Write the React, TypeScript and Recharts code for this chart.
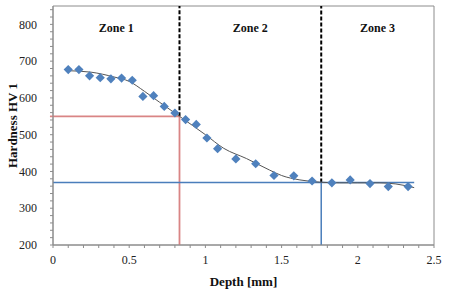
import {
  ComposedChart,
  Scatter,
  Line,
  XAxis,
  YAxis,
  ReferenceLine,
  ReferenceArea,
} from 'recharts';

// measured points
const depth = [0.1, 0.17, 0.24, 0.31, 0.38, 0.45, 0.52, 0.59, 0.66, 0.73, 0.8, 0.87, 0.94, 1.01, 1.08, 1.2, 1.33, 1.45, 1.58, 1.7, 1.83, 1.95, 2.08, 2.2, 2.33];
const hardness = [677, 677, 660, 655, 652, 654, 648, 604, 606, 577, 559, 541, 528, 491, 462, 434, 421, 389, 388, 374, 369, 377, 367, 359, 359];

// fitted trend curve
const trendDepth = [0.1, 0.25, 0.4, 0.5, 0.6, 0.7, 0.83, 1.0, 1.12, 1.27, 1.42, 1.5, 1.62, 1.75, 1.88, 2.0, 2.14, 2.25, 2.37];
const trendHv = [674, 670, 657, 645, 618, 588, 550, 500, 463, 435, 404, 389, 377, 371, 369, 369, 369, 366, 356];

const zones = ['Zone 1', 'Zone 2', 'Zone 3'];
const zoneBounds = [0, 0.83, 1.76, 2.5];

const xTicks = [0, 0.1, 0.2, 0.3, 0.4, 0.5, 0.6, 0.7, 0.8, 0.9, 1, 1.1, 1.2, 1.3, 1.4, 1.5, 1.6, 1.7, 1.8, 1.9, 2, 2.1, 2.2, 2.3, 2.4, 2.5];
const xLabels = [0, 0.5, 1, 1.5, 2, 2.5];
const yTicks = [200, 220, 240, 260, 280, 300, 320, 340, 360, 380, 400, 420, 440, 460, 480, 500, 520, 540, 560, 580, 600, 620, 640, 660, 680, 700, 720, 740, 760, 780, 800, 820, 840];
const yLabels = [200, 300, 400, 500, 600, 700, 800];

const redLevel = 550;
const blueLevel = 370;

const points = depth.map((d, i) => ({ x: d, y: hardness[i] }));
const trend = trendDepth.map((d, i) => ({ x: d, t: trendHv[i] }));

const font = '"Liberation Serif", "Times New Roman", serif';

const Diamond = (props: any) => {
  const { cx, cy } = props;
  const r = 4.6;
  return (
    <polygon
      points={`${cx},${cy - r} ${cx + r},${cy} ${cx},${cy + r} ${cx - r},${cy}`}
      fill="#4F81BD"
    />
  );
};

export default function App() {
  return (
    <div style={{ position: 'absolute', left: 0, top: 0, background: '#fff' }}>
      <ComposedChart
        width={449}
        height={290}
        margin={{ top: 6, right: 15, left: 0, bottom: 0 }}
      >
        <XAxis
          dataKey="x"
          type="number"
          domain={[0, 2.5]}
          ticks={xTicks}
          interval={0}
          tickFormatter={(v: number) => (xLabels.some((l) => Math.abs(l - v) < 1e-6) ? String(v) : '')}
          height={45}
          tickSize={3}
          tickMargin={7}
          stroke="#8c8c8c"
          tick={{ fill: '#222', fontSize: 12, fontFamily: font }}
          label={{ value: 'Depth [mm]', position: 'insideBottom', offset: 4, fill: '#111', fontSize: 13, fontWeight: 'bold', fontFamily: font }}
        />
        <YAxis
          type="number"
          domain={[200, 850]}
          ticks={yTicks}
          interval={0}
          tickFormatter={(v: number) => (yLabels.includes(v) ? String(v) : '')}
          width={53}
          tickSize={3}
          tickMargin={13}
          stroke="#8c8c8c"
          tick={{ fill: '#222', fontSize: 12, fontFamily: font }}
          label={{ value: 'Hardness HV 1', angle: -90, position: 'insideLeft', offset: 12, style: { textAnchor: 'middle' }, fill: '#111', fontSize: 13, fontWeight: 'bold', fontFamily: font }}
        />
        <ReferenceArea x1={0} x2={2.5} y1={200} y2={850} fill="none" stroke="#8c8c8c" strokeWidth={1} />
        {zones.map((z, i) => (
          <ReferenceArea
            key={z}
            x1={zoneBounds[i]}
            x2={zoneBounds[i + 1]}
            y1={200}
            y2={850}
            fill="none"
            stroke="none"
            label={{ value: z, position: 'insideTop', offset: 17, fill: '#111', fontSize: 12, fontWeight: 'bold', fontFamily: font }}
          />
        ))}
        <ReferenceLine
          segment={[{ x: zoneBounds[1], y: redLevel }, { x: zoneBounds[1], y: 850 }]}
          stroke="#000"
          strokeWidth={2}
          strokeDasharray="4 2"
        />
        <ReferenceLine
          segment={[{ x: zoneBounds[2], y: blueLevel }, { x: zoneBounds[2], y: 850 }]}
          stroke="#000"
          strokeWidth={2}
          strokeDasharray="4 2"
        />
        <ReferenceLine
          segment={[{ x: -0.02, y: redLevel }, { x: zoneBounds[1], y: redLevel }]}
          stroke="#D98585"
          strokeWidth={1.8}
          ifOverflow="visible"
        />
        <ReferenceLine
          segment={[{ x: zoneBounds[1], y: 200 }, { x: zoneBounds[1], y: redLevel }]}
          stroke="#D98585"
          strokeWidth={1.8}
        />
        <ReferenceLine
          segment={[{ x: 0, y: blueLevel }, { x: 2.37, y: blueLevel }]}
          stroke="#4A7EBB"
          strokeWidth={1.5}
        />
        <ReferenceLine
          segment={[{ x: zoneBounds[2], y: 200 }, { x: zoneBounds[2], y: blueLevel }]}
          stroke="#4A7EBB"
          strokeWidth={1.5}
        />
        <Line
          data={trend}
          dataKey="t"
          type="monotone"
          stroke="#555"
          strokeWidth={1}
          dot={false}
          activeDot={false}
          isAnimationActive={false}
        />
        <Scatter data={points} dataKey="y" shape={Diamond} isAnimationActive={false} />
      </ComposedChart>
    </div>
  );
}
